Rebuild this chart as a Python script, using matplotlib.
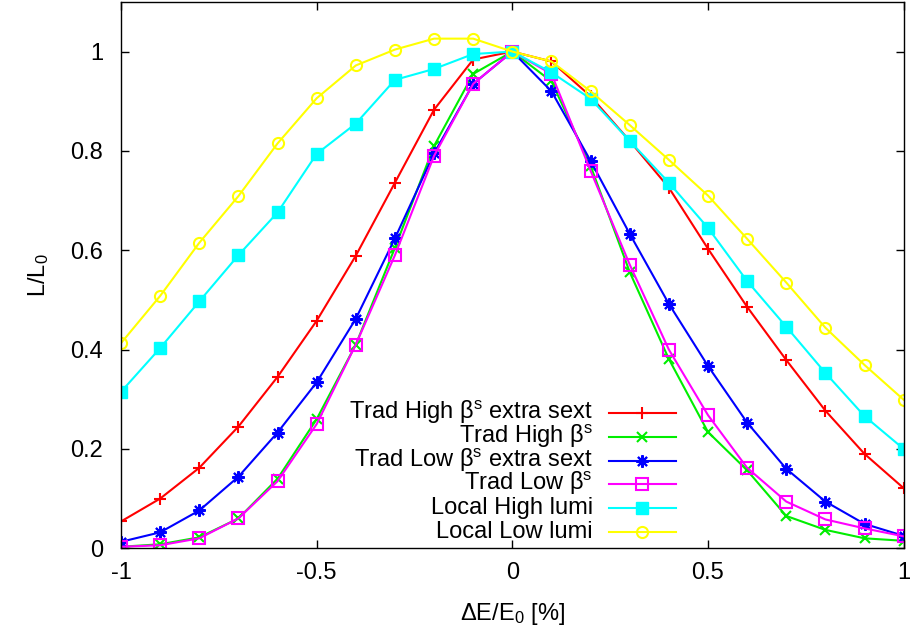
import numpy as np
import matplotlib
matplotlib.use('Agg')
import matplotlib.pyplot as plt
from matplotlib.lines import Line2D

plt.rcParams['font.family'] = ['Liberation Sans', 'DejaVu Sans']
plt.rcParams['mathtext.fontset'] = 'custom'
plt.rcParams['mathtext.rm'] = 'Liberation Sans'
plt.rcParams['mathtext.it'] = 'Liberation Sans:italic'

# energy offset dE/E0 [%]
de = [-1.0, -0.9, -0.8, -0.7, -0.6, -0.5, -0.4, -0.3, -0.2, -0.1, 0.0,
      0.1, 0.2, 0.3, 0.4, 0.5, 0.6, 0.7, 0.8, 0.9, 1.0]

trad_high_extra = [0.054, 0.100, 0.162, 0.245, 0.345, 0.458, 0.589, 0.736, 0.883, 0.984, 1.0,
                   0.980, 0.910, 0.820, 0.726, 0.603, 0.486, 0.379, 0.277, 0.190, 0.121]
trad_high = [0.003, 0.008, 0.022, 0.060, 0.140, 0.260, 0.410, 0.605, 0.810, 0.955, 1.0,
             0.940, 0.770, 0.556, 0.381, 0.234, 0.157, 0.065, 0.037, 0.020, 0.015]
trad_low_extra = [0.013, 0.032, 0.076, 0.144, 0.233, 0.334, 0.462, 0.624, 0.795, 0.935, 1.0,
                  0.920, 0.780, 0.633, 0.492, 0.367, 0.253, 0.160, 0.094, 0.049, 0.025]
trad_low = [0.003, 0.006, 0.020, 0.060, 0.135, 0.250, 0.410, 0.590, 0.790, 0.935, 1.0,
            0.955, 0.760, 0.571, 0.400, 0.268, 0.162, 0.094, 0.058, 0.040, 0.024]
local_high = [0.315, 0.403, 0.497, 0.590, 0.676, 0.794, 0.855, 0.943, 0.965, 0.995, 1.0,
              0.958, 0.905, 0.820, 0.736, 0.645, 0.538, 0.446, 0.353, 0.266, 0.200]
local_low = [0.413, 0.508, 0.615, 0.709, 0.815, 0.906, 0.972, 1.004, 1.026, 1.026, 1.0,
             0.980, 0.920, 0.852, 0.782, 0.710, 0.623, 0.535, 0.444, 0.369, 0.299]

labels = [r'Trad High β$^{\mathrm{s}}$ extra sext', r'Trad High β$^{\mathrm{s}}$',
          r'Trad Low β$^{\mathrm{s}}$ extra sext', r'Trad Low β$^{\mathrm{s}}$',
          'Local High lumi', 'Local Low lumi']

fs = 17
fig = plt.figure(figsize=(9.1, 6.28), dpi=100)
ax = fig.add_axes([0.133, 0.127, 0.860, 0.870])

lw = 1.5
styles = [dict(color='#ff0000', marker='+', ms=9, mew=1.5),
          dict(color='#00ee00', marker='x', ms=7, mew=1.5),
          dict(color='#0000ff', marker=(8, 2, 0), ms=9, mew=1.5),
          dict(color='#ff00ff', marker='s', ms=8, mew=1.5, mfc='none'),
          dict(color='#00ffff', marker='s', ms=8, mew=1.0),
          dict(color='#ffff00', marker='o', ms=8, mew=1.5, mfc='none')]
series = [trad_high_extra, trad_high, trad_low_extra, trad_low, local_high, local_low]

for ys, st, lab in zip(series, styles, labels):
    ax.plot(de, ys, lw=lw, label=lab, **st)

ax.set_xlim(-1, 1)
ax.set_ylim(0, 1.1)
ax.set_xticks([-1, -0.5, 0, 0.5, 1])
ax.set_xticklabels(['-1', '-0.5', '0', '0.5', '1'])
ax.set_yticks([0, 0.2, 0.4, 0.6, 0.8, 1])
ax.set_yticklabels(['0', '0.2', '0.4', '0.6', '0.8', '1'])
ax.tick_params(direction='in', top=True, right=True, length=6, width=1, labelsize=fs)
ax.tick_params(axis='x', pad=10)
ax.tick_params(axis='y', pad=13)
for s in ax.spines.values():
    s.set_linewidth(1.0)

ax.set_xlabel(r'ΔE/E$_{0}$ [%]', fontsize=fs, labelpad=12)
ax.set_ylabel(r'L/L$_{0}$', fontsize=fs, labelpad=14)

# gnuplot-style key: text right-aligned, sample line to the right
ax_h = 0.870 * 628
row0 = (548.2 - 413) / ax_h
dy = 23.8 / ax_h
for i, (st, lab) in enumerate(zip(styles, labels)):
    yk = row0 - i * dy
    ax.text(0.603, yk - 6 / ax_h, lab, transform=ax.transAxes, ha='right',
            va='baseline', fontsize=fs)
    ax.add_line(Line2D([0.6235, 0.709], [yk, yk], transform=ax.transAxes, lw=lw,
                       color=st['color']))
    mk = dict(st)
    ax.add_line(Line2D([0.666], [yk], transform=ax.transAxes, ls='none', **mk))

fig.savefig('out.png', dpi=100)
